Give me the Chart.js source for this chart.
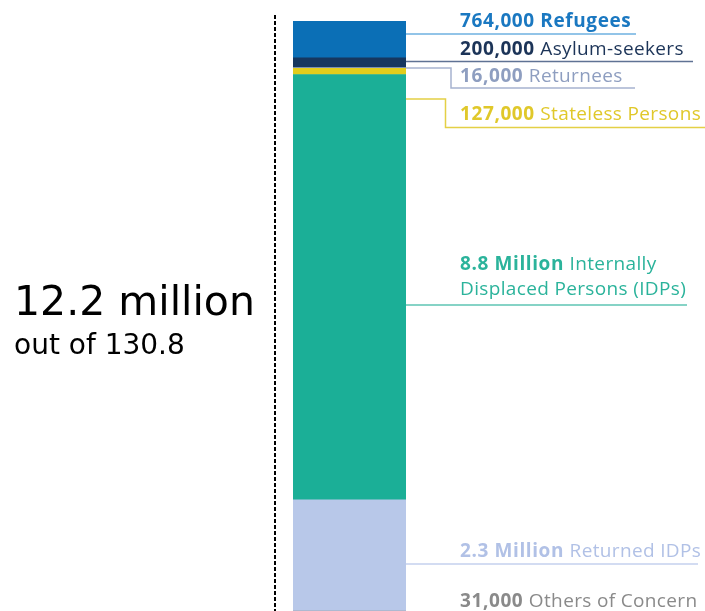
<!DOCTYPE html>
<html>
<head>
<meta charset="utf-8">
<script src="https://cdn.jsdelivr.net/npm/chart.js@4.4.1/dist/chart.umd.min.js"></script>
<style>
  html, body { margin: 0; padding: 0; background: #fff; overflow: hidden; }
  #wrap { width: 705px; height: 611px; }
</style>
</head>
<body>
<div id="wrap"><canvas id="barcanvas" width="705" height="611"></canvas></div>
<script>
// population of concern, top of the bar to bottom
var categories = ["Refugees", "Asylum-seekers", "Returnees", "Stateless Persons",
                  "Internally Displaced Persons (IDPs)", "Returned IDPs", "Others of Concern"];
var values = [764000, 200000, 16000, 127000, 8800000, 2300000, 31000];
var totalText = "12.2 million";
var outOfText = "out of 130.8";

// colours
var barColors = ["#0b6fb6", "#16375f", "#9fb0d0", "#e2cd1c", "#1baf97", "#b8c8e9", "#8c8c8c"];
var textColors = ["#1a78c1", "#1c3458", "#8e9ec0", "#e0c82a", "#2bb39b", "#b1c1e6", "#8a8a8a"];
var lineColors = ["#6eb0e0", "#5f7294", "#a6b3cf", "#e4d045", "#5ec5b3", "#c5d1ee", null];

// where each label sits (baselines) and how its leader line runs
var labelLines = [
  { base: [27], line: [[34], 636], boldAll: true },
  { base: [55], line: [[61.5], 693] },
  { base: [82], line: [[68, 451, 88], 635] },
  { base: [120], line: [[99, 445.5, 127.5], 705] },
  { base: [270, 295], line: [[305], 687], wrap: ["Internally", "Displaced Persons (IDPs)"] },
  { base: [557], line: [[564], 698] },
  { base: [607], line: null }
];

function numText(v) {
  if (v >= 1000000) return (v / 1000000).toFixed(1) + " Million";
  return v.toLocaleString("en-US");
}

// stacked bars: first dataset ends up at the bottom
var datasets = [];
for (var i = categories.length - 1; i >= 0; i--) {
  datasets.push({
    label: categories[i],
    data: [values[i]],
    backgroundColor: barColors[i],
    borderWidth: 0,
    barPercentage: 1,
    categoryPercentage: 1
  });
}

var labelPlugin = {
  id: "sideLabels",
  afterDraw: function(chart) {
    var ctx = chart.ctx;
    var bar = chart.getDatasetMeta(0).data[0];
    var barRight = bar.x + bar.width / 2;
    ctx.save();

    // dashed divider
    ctx.strokeStyle = "#000";
    ctx.lineWidth = 2;
    ctx.setLineDash([4, 2]);
    ctx.beginPath();
    ctx.moveTo(275, 15);
    ctx.lineTo(275, 611);
    ctx.stroke();
    ctx.setLineDash([]);

    // big total on the left
    ctx.fillStyle = "#000";
    ctx.textBaseline = "alphabetic";
    ctx.font = "41px 'DejaVu Sans'";
    ctx.fillText(totalText, 14, 315);
    ctx.font = "28px 'DejaVu Sans'";
    ctx.fillText(outOfText, 14, 354);

    // labels with leader lines
    var x0 = 460;
    for (var i = 0; i < categories.length; i++) {
      var l = labelLines[i];
      ctx.fillStyle = textColors[i];
      var bold = numText(values[i]);
      var rest = l.wrap ? l.wrap[0] : categories[i];
      ctx.letterSpacing = "0.6px";
      ctx.font = "bold 19px 'Open Sans'";
      ctx.fillText(bold, x0, l.base[0]);
      var w = ctx.measureText(bold + " ").width;
      ctx.letterSpacing = l.boldAll ? "0.6px" : "0.35px";
      ctx.font = (l.boldAll ? "bold " : "") + "19px 'Open Sans'";
      ctx.fillText(rest, x0 + w, l.base[0]);
      if (l.wrap) {
        ctx.font = "19px 'Open Sans'";
        ctx.fillText(l.wrap[1], x0, l.base[1]);
      }
      if (l.line) {
        var p = l.line[0];
        ctx.strokeStyle = lineColors[i];
        ctx.lineWidth = 1.5;
        ctx.beginPath();
        ctx.moveTo(barRight, p[0]);
        if (p.length === 3) {
          ctx.lineTo(p[1], p[0]);
          ctx.lineTo(p[1], p[2]);
          ctx.lineTo(l.line[1], p[2]);
        } else {
          ctx.lineTo(l.line[1], p[0]);
        }
        ctx.stroke();
      }
    }
    ctx.restore();
  }
};

var chart1 = new Chart(document.getElementById("barcanvas"), {
  type: "bar",
  data: { labels: [""], datasets: datasets },
  options: {
    responsive: false,
    animation: false,
    layout: { padding: { left: 293, right: 299, top: 21, bottom: 0 } },
    plugins: { legend: { display: false }, tooltip: { enabled: false } },
    scales: {
      x: { stacked: true, display: false },
      y: { stacked: true, display: false, min: 31000, max: 12238000 }
    }
  },
  plugins: [labelPlugin]
});
</script>
</body>
</html>
